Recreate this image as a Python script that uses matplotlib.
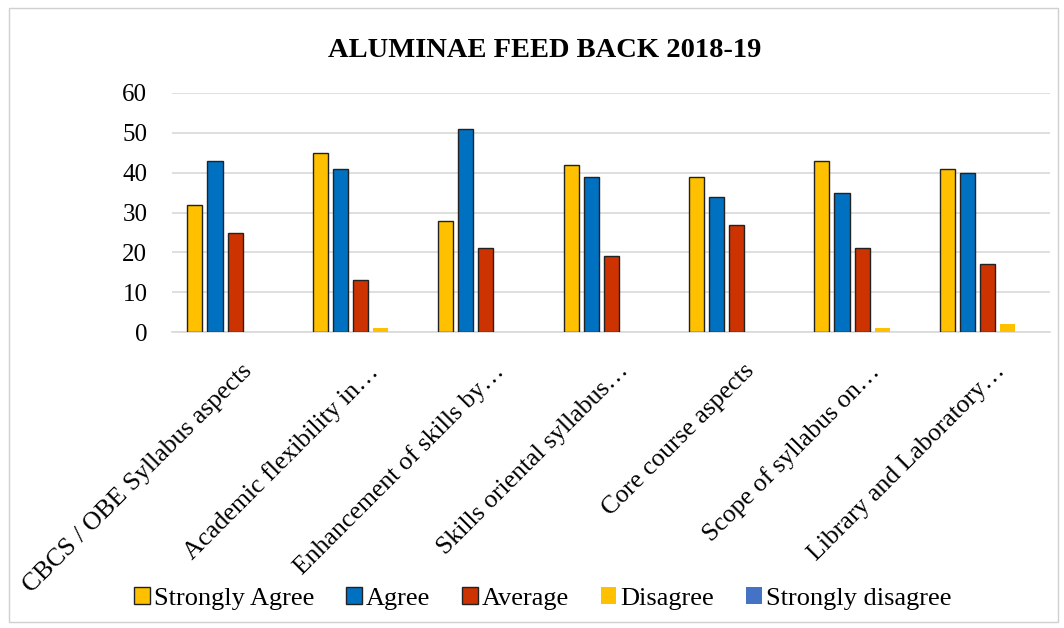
import numpy as np
import matplotlib
matplotlib.use("Agg")
import matplotlib.pyplot as plt
from matplotlib.patches import Rectangle

plt.rcParams['font.family'] = ['Liberation Serif', 'DejaVu Serif']

categories = ['CBCS / OBE Syllabus aspects', 'Academic flexibility in…',
              'Enhancement of skills by…', 'Skills oriental syllabus…',
              'Core course aspects', 'Scope of syllabus on…',
              'Library and Laboratory…']
series_names = ['Strongly Agree', 'Agree', 'Average', 'Disagree', 'Strongly disagree']
strongly_agree = [32, 45, 28, 42, 39, 43, 41]
agree = [43, 41, 51, 39, 34, 35, 40]
average = [25, 13, 21, 19, 27, 21, 17]
disagree = [0, 1, 0, 0, 0, 1, 2]
strongly_disagree = [0, 0, 0, 0, 0, 0, 0]
yticks = [0, 10, 20, 30, 40, 50, 60]

colors = ['#FFC000', '#0070C0', '#CC3300', '#FFC000', '#4472C4']
edges = ['#222222', '#222222', '#222222', 'none', 'none']

fig = plt.figure(figsize=(10.64, 6.28), dpi=100)
ax = fig.add_axes([0.162, 0.471, 0.825, 0.381])

x = np.arange(len(categories))
step = 0.16
width = 0.12
data = [strongly_agree, agree, average, disagree, strongly_disagree]
for i, (name, vals) in enumerate(zip(series_names, data)):
    ax.bar(x + (i - 2) * step, vals, width, color=colors[i],
           edgecolor=edges[i], linewidth=1.0, label=name, zorder=3)

ax.set_xlim(-0.5, len(categories) - 0.5)
ax.set_ylim(0, 60)
ax.set_yticks(yticks)
ax.set_yticklabels([str(t) for t in yticks], fontsize=18)
ax.yaxis.grid(True, color='#d9d9d9', linewidth=1.2, zorder=0)
ax.tick_params(axis='y', length=0, pad=18)
ax.tick_params(axis='x', length=0, pad=20)
ax.set_xticks(x + 0.05)
ax.set_xticklabels(categories, rotation=45, ha='right', va='top',
                   rotation_mode='anchor', fontsize=18.5)
for s in ['top', 'right', 'left']:
    ax.spines[s].set_visible(False)
ax.spines['bottom'].set_color('#d9d9d9')
ax.spines['bottom'].set_linewidth(1.2)

fig.text(0.512, 0.92, 'ALUMINAE FEED BACK 2018-19', ha='center', va='center',
         fontsize=20.5, fontweight='bold')

leg = fig.legend(loc='center', bbox_to_anchor=(0.51, 0.047), ncol=5,
                 frameon=False, fontsize=19, handlelength=0.6, handleheight=0.6,
                 handletextpad=0.15, columnspacing=1.2)

fig.patches.append(Rectangle((0.008, 0.01), 0.986, 0.978, transform=fig.transFigure,
                             fill=False, edgecolor='#d0d0d0', linewidth=1.0))

fig.savefig('out.png', dpi=100)
